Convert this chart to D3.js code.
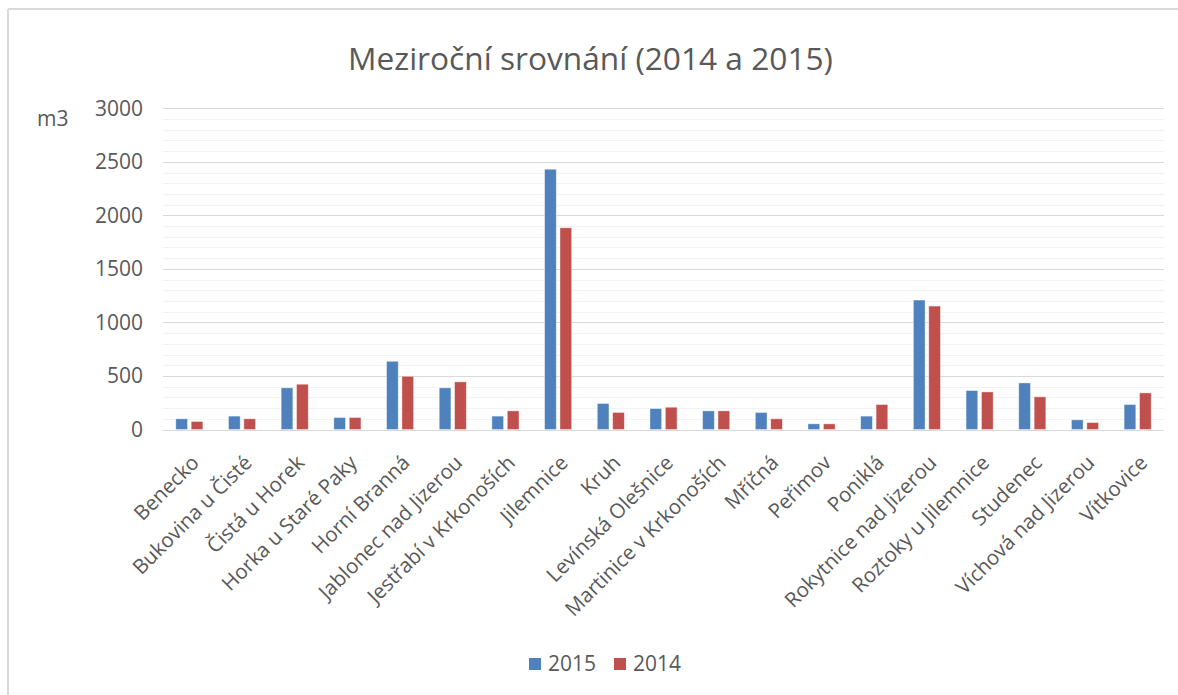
<!DOCTYPE html>
<html>
<head>
<meta charset="utf-8">
<script src="https://cdn.jsdelivr.net/npm/d3@7"></script>
<style>
  html, body { margin: 0; padding: 0; background: #fff; }
  svg { display: block; }
  text { font-family: "Open Sans", "Noto Sans", sans-serif; fill: #595959; }
</style>
</head>
<body>
<svg id="chart" width="1178" height="695"></svg>
<script>
const categories = ["Benecko", "Bukovina u Čisté", "Čistá u Horek", "Horka u Staré Paky", "Horní Branná",
  "Jablonec nad Jizerou", "Jestřabí v Krkonoších", "Jilemnice", "Kruh", "Levínská Olešnice",
  "Martinice v Krkonoších", "Mříčná", "Peřimov", "Poniklá", "Rokytnice nad Jizerou",
  "Roztoky u Jilemnice", "Studenec", "Víchová nad Jizerou", "Vítkovice"];
const seriesNames = ["2015", "2014"];
const values2015 = [100, 125, 389, 112, 637, 389, 125, 2431, 243, 196, 174, 159, 53, 125, 1209, 364, 435, 90, 233];
const values2014 = [75, 100, 423, 112, 497, 445, 174, 1884, 159, 208, 174, 100, 53, 233, 1153, 351, 305, 65, 342];
const seriesColors = ["#4F81BD", "#C0504D"];
const yTicks = [0, 500, 1000, 1500, 2000, 2500, 3000];
const titleText = "Meziroční srovnání (2014 a 2015)";
const unitLabel = "m3";

const svg = d3.select("#chart");
const W = 1178, H = 695;
const plot = { left: 163, right: 1164, top: 108.3, bottom: 429.5 };

// chart frame (top + left edges visible)
svg.append("line").attr("x1", 8).attr("x2", W).attr("y1", 9).attr("y2", 9)
  .attr("stroke", "#d9d9d9").attr("stroke-width", 2);
svg.append("line").attr("x1", 8).attr("x2", 8).attr("y1", 9).attr("y2", H)
  .attr("stroke", "#d9d9d9").attr("stroke-width", 2);

const x0 = d3.scaleBand().domain(categories).range([plot.left, plot.right]).padding(0);
const y = d3.scaleLinear().domain([0, 3000]).range([plot.bottom, plot.top]);

// minor gridlines
const minor = d3.range(0, 3001, 100).filter(v => v % 500 !== 0);
svg.append("g").selectAll("line").data(minor).join("line")
  .attr("x1", plot.left).attr("x2", plot.right)
  .attr("y1", d => Math.round(y(d)) + 0.5).attr("y2", d => Math.round(y(d)) + 0.5)
  .attr("stroke", "#f2f2f2").attr("stroke-width", 1);
// major gridlines
svg.append("g").selectAll("line").data(yTicks).join("line")
  .attr("x1", plot.left).attr("x2", plot.right)
  .attr("y1", d => Math.round(y(d)) + 0.5).attr("y2", d => Math.round(y(d)) + 0.5)
  .attr("stroke", "#d9d9d9").attr("stroke-width", 1.2);

// y axis labels
const yAxis = d3.axisLeft(y).tickValues(yTicks).tickSize(0).tickPadding(20).tickFormat(d3.format("d"));
const gy = svg.append("g").attr("transform", `translate(${plot.left},0)`).call(yAxis);
gy.select(".domain").remove();
gy.selectAll("text").style("font-size", "21px").style("fill", "#595959")
  .style("font-family", '"Open Sans", sans-serif');

// bars
const data = categories.map((c, i) => ({ cat: c, vals: [values2015[i], values2014[i]] }));
const half = 13.55;
const groups = svg.append("g").selectAll("g").data(data).join("g");
groups.each(function(d) {
  const c = x0(d.cat) + x0.bandwidth() / 2;
  const x1 = d3.scaleBand().domain(seriesNames).range([c - half, c + half]).paddingInner(0.24).paddingOuter(0);
  d3.select(this).selectAll("rect").data(seriesNames.map((s, k) => ({ s, v: d.vals[k], k })))
    .join("rect")
    .attr("x", e => x1(e.s))
    .attr("width", x1.bandwidth())
    .attr("y", e => y(e.v))
    .attr("height", e => y(0) - y(e.v))
    .attr("fill", e => seriesColors[e.k])
    .attr("stroke", "#ffffff").attr("stroke-opacity", 0.5).attr("stroke-width", 0.8);
});

// category labels rotated
svg.append("g").selectAll("text").data(categories).join("text")
  .attr("transform", d => `translate(${x0(d) + x0.bandwidth() / 2 + 11},${464}) rotate(-45)`)
  .attr("text-anchor", "end")
  .style("font-size", "20.5px")
  .text(d => d);

// title, fitted to its width in the reference
const title = svg.append("text").attr("x", 590.5).attr("y", 69.5).attr("text-anchor", "middle")
  .style("font-size", "30px").text(titleText);
const tw = title.node().getComputedTextLength();
title.style("font-size", (30 * 485 / tw).toFixed(2) + "px");

// unit label
svg.append("text").attr("x", 37).attr("y", 126).style("font-size", "21px").text(unitLabel);

// legend
const legendItems = [{ name: seriesNames[0], color: seriesColors[0], x: 529 }, { name: seriesNames[1], color: seriesColors[1], x: 614 }];
const lg = svg.append("g").selectAll("g").data(legendItems).join("g")
  .attr("transform", d => `translate(${d.x},0)`);
lg.append("rect").attr("x", 0).attr("y", 658).attr("width", 12).attr("height", 12).attr("fill", d => d.color);
lg.append("text").attr("x", 19).attr("y", 671).style("font-size", "21px").text(d => d.name);
</script>
</body>
</html>
